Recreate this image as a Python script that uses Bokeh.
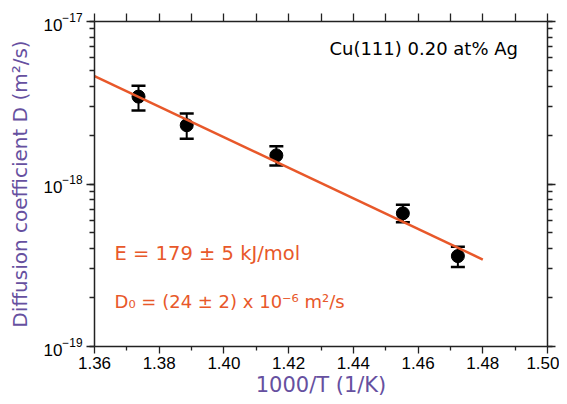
from bokeh.plotting import figure
from bokeh.models import (LinearAxis, LogAxis, LogTicker, FixedTicker, Whisker,
                          ColumnDataSource, Label, PrintfTickFormatter, TeeHead,
                          CustomJSTickFormatter)
from bokeh.embed import file_html
from bokeh.resources import INLINE

# ---- data ----
inv_T = [1.3736, 1.3885, 1.4162, 1.4553, 1.4723]          # 1000/T (1/K)
D = [3.45e-18, 2.30e-18, 1.50e-18, 6.6e-19, 3.6e-19]       # m^2/s
D_upper = [4.03e-18, 2.72e-18, 1.71e-18, 7.45e-19, 4.11e-19]
D_lower = [2.83e-18, 1.90e-18, 1.30e-18, 5.82e-19, 3.09e-19]
fit_x = [1.36, 1.48]
fit_D = [4.61e-18, 3.43e-19]
x_ticks = [1.36, 1.38, 1.40, 1.42, 1.44, 1.46, 1.48, 1.50]
x_minor = [1.37, 1.39, 1.41, 1.43, 1.45, 1.47, 1.49]
top_ticks = [1.36, 1.37, 1.38, 1.39, 1.40, 1.41, 1.42, 1.43, 1.44, 1.45,
             1.46, 1.47, 1.48, 1.49, 1.50]

ORANGE = "#e8582a"
PURPLE = "#6650a0"
AXIS = "#222222"

p = figure(width=559, height=400, x_range=(1.36, 1.50), y_range=(1e-19, 1e-17),
           y_axis_type="log", output_backend="svg", toolbar_location=None,
           min_border_left=94, min_border_right=12, min_border_top=21,
           min_border_bottom=54)
p.grid.visible = False
p.outline_line_color = None
p.background_fill_color = "white"
p.border_fill_color = "white"


def style(ax):
    ax.axis_line_color = AXIS
    ax.axis_line_width = 1.5
    ax.major_tick_line_color = AXIS
    ax.minor_tick_line_color = AXIS
    ax.major_tick_line_width = 1.3
    ax.minor_tick_line_width = 1.3
    ax.major_tick_in = 0
    ax.minor_tick_in = 0
    ax.major_tick_out = 8
    ax.minor_tick_out = 5


# bottom axis
xa = p.xaxis[0]
xa.ticker = FixedTicker(ticks=x_ticks, minor_ticks=x_minor)
xa.formatter = PrintfTickFormatter(format="%.2f")
style(xa)
xa.major_tick_out = 7
xa.minor_tick_out = 4
xa.major_label_text_font = "Liberation Sans"
xa.major_label_text_font_size = "17px"
xa.major_label_text_color = "black"
xa.major_label_standoff = 3
xa.axis_label = "1000/T (1/K)"
xa.axis_label_text_font = "DejaVu Sans"
xa.axis_label_text_font_size = "21px"
xa.axis_label_text_font_style = "normal"
xa.axis_label_text_color = PURPLE
xa.axis_label_standoff = 1

# left axis
ya = p.yaxis[0]
ya.ticker = LogTicker(num_minor_ticks=10)
style(ya)
ya.major_label_text_font = "Liberation Sans"
ya.major_label_text_font_size = "17px"
ya.major_label_text_color = "black"
ya.major_label_standoff = 4
ya.axis_label = "Diffusion coefficient D (m²/s)"
ya.axis_label_text_font = "DejaVu Sans"
ya.axis_label_text_font_size = "20px"
ya.axis_label_text_font_style = "normal"
ya.axis_label_text_color = PURPLE
ya.axis_label_standoff = 8

# top axis (ticks only)
top = LinearAxis(ticker=FixedTicker(ticks=top_ticks, minor_ticks=[]),
                 formatter=CustomJSTickFormatter(code="return ''"))
style(top)
top.major_label_text_font_size = "0px"
p.add_layout(top, "above")

# right axis (ticks only)
right = LogAxis(ticker=LogTicker(num_minor_ticks=10),
                formatter=CustomJSTickFormatter(code="return ''"))
style(right)
right.major_label_text_font_size = "0px"
p.add_layout(right, "right")

# error bars
src = ColumnDataSource(dict(x=inv_T, y=D, upper=D_upper, lower=D_lower))
wh = Whisker(source=src, base="x", upper="upper", lower="lower",
             dimension="height", line_color="black", line_width=2,
             upper_head=TeeHead(size=14, line_width=2.5, line_color="black"),
             lower_head=TeeHead(size=14, line_width=2.5, line_color="black"))
p.add_layout(wh)

p.scatter("x", "y", source=src, size=13, color="black")
p.line(fit_x, fit_D, line_color=ORANGE, line_width=2.5)

p.add_layout(Label(x=1.4326, y=6.82e-18, text="Cu(111) 0.20 at% Ag",
                   text_font="DejaVu Sans", text_font_size="18px",
                   text_color="black", text_baseline="alphabetic"))
p.add_layout(Label(x=1.3662, y=3.73e-19, text="E = 179 ± 5 kJ/mol",
                   text_font="DejaVu Sans", text_font_size="19.5px",
                   text_color=ORANGE, text_baseline="alphabetic"))
p.add_layout(Label(x=1.3662, y=1.905e-19, text="D₀ = (24 ± 2) x 10⁻⁶ m²/s",
                   text_font="DejaVu Sans", text_font_size="18px",
                   text_color=ORANGE, text_baseline="alphabetic"))

open("out.html", "w").write(file_html(p, INLINE))
